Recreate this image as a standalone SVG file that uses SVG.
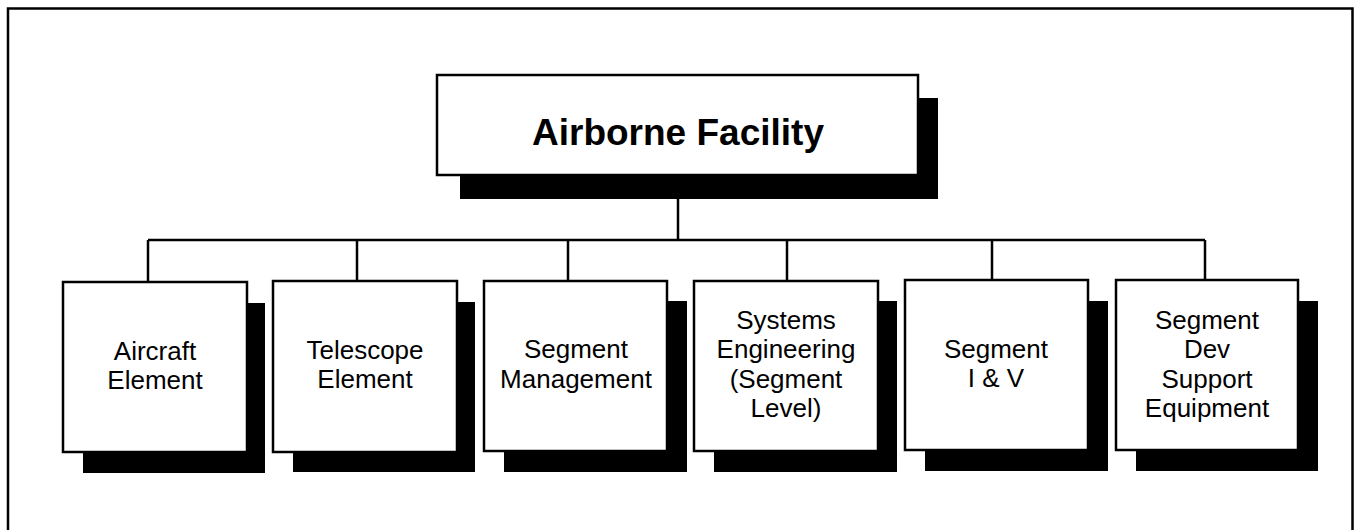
<svg xmlns="http://www.w3.org/2000/svg" width="1359" height="530" viewBox="0 0 1359 530">
<style>
.box{fill:#fff;stroke:#000;stroke-width:2.5}
.sh{fill:#000}
.t{font-family:"Liberation Sans",Arial,sans-serif;font-size:26px;fill:#000;text-anchor:middle}
.tt{font-family:"Liberation Sans",Arial,sans-serif;font-size:37px;font-weight:bold;fill:#000;text-anchor:middle}
.ln{fill:none;stroke:#000;stroke-width:2.5}
</style>
<rect x="0" y="0" width="1359" height="530" fill="#fff"/>
<path class="ln" d="M8,545 V8.5 H1352.5 V545"/>
<g id="connectors">
<path class="ln" d="M678,175 V240 M148,240 H1205 M148,240 V282 M357,240 V282 M568,240 V281 M787,240 V281 M992,240 V280 M1205,240 V280"/>
</g>
<g id="airborne-facility">
<rect class="sh" x="460" y="98" width="478" height="101"/>
<rect class="box" x="437" y="75" width="481" height="100"/>
<text class="tt" x="678" y="145">Airborne Facility</text>
</g>
<g id="aircraft-element">
<rect class="sh" x="83" y="303" width="182" height="170"/>
<rect class="box" x="63" y="282" width="184" height="170"/>
<text class="t" x="155" y="360">Aircraft</text>
<text class="t" x="155" y="389">Element</text>
</g>
<g id="telescope-element">
<rect class="sh" x="293" y="302" width="182" height="170"/>
<rect class="box" x="273" y="281" width="184" height="171"/>
<text class="t" x="365" y="359">Telescope</text>
<text class="t" x="365" y="388">Element</text>
</g>
<g id="segment-management">
<rect class="sh" x="504" y="301" width="183" height="171"/>
<rect class="box" x="484" y="281" width="183" height="170"/>
<text class="t" x="576" y="358">Segment</text>
<text class="t" x="576" y="388">Management</text>
</g>
<g id="systems-engineering">
<rect class="sh" x="714" y="301" width="183" height="171"/>
<rect class="box" x="694" y="281" width="184" height="170"/>
<text class="t" x="786" y="329">Systems</text>
<text class="t" x="786" y="358">Engineering</text>
<text class="t" x="786" y="388">(Segment</text>
<text class="t" x="786" y="417">Level)</text>
</g>
<g id="segment-iv">
<rect class="sh" x="925" y="301" width="183" height="170"/>
<rect class="box" x="905" y="280" width="183" height="170"/>
<text class="t" x="996" y="358">Segment</text>
<text class="t" x="996" y="387">I &amp; V</text>
</g>
<g id="segment-dev-support">
<rect class="sh" x="1136" y="301" width="182" height="170"/>
<rect class="box" x="1116" y="280" width="182" height="170"/>
<text class="t" x="1207" y="329">Segment</text>
<text class="t" x="1207" y="358">Dev</text>
<text class="t" x="1207" y="388">Support</text>
<text class="t" x="1207" y="417">Equipment</text>
</g>
</svg>
